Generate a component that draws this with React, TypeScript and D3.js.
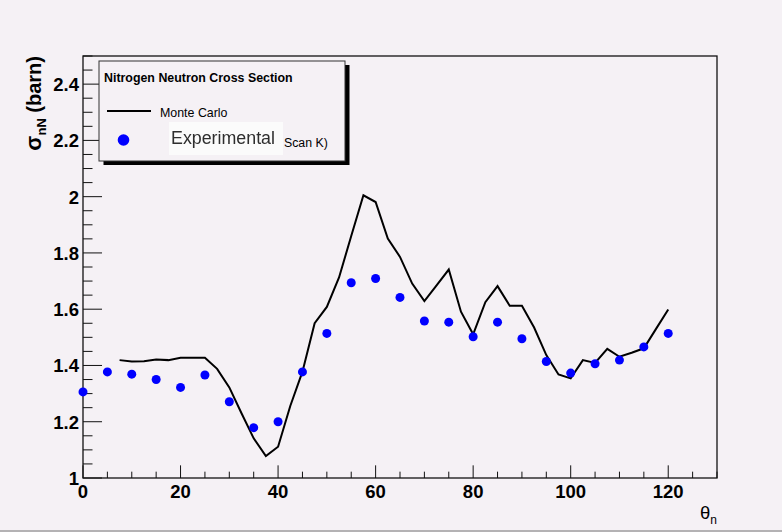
import React from "react";
import * as d3 from "d3";

// Experimental cross sections (Scan K), one per 5 degrees
const expAngles = [0, 5, 10, 15, 20, 25, 30, 35, 40, 45, 50, 55, 60, 65, 70, 75, 80, 85, 90, 95, 100, 105, 110, 115, 120];
const expSigma = [1.306, 1.377, 1.369, 1.35, 1.322, 1.366, 1.271, 1.179, 1.2, 1.377, 1.514, 1.694, 1.709, 1.642, 1.558, 1.554, 1.502, 1.554, 1.495, 1.414, 1.373, 1.406, 1.419, 1.466, 1.514];

// Monte Carlo prediction, one per 2.5 degrees
const mcAngles = [7.5, 10, 12.5, 15, 17.5, 20, 22.5, 25, 27.5, 30, 32.5, 35, 37.5, 40, 42.5, 45, 47.5, 50, 52.5, 55, 57.5, 60, 62.5, 65, 67.5, 70, 72.5, 75, 77.5, 80, 82.5, 85, 87.5, 90, 92.5, 95, 97.5, 100, 102.5, 105, 107.5, 110, 112.5, 115, 117.5, 120];
const mcSigma = [1.419, 1.414, 1.415, 1.421, 1.419, 1.427, 1.427, 1.427, 1.388, 1.322, 1.23, 1.141, 1.078, 1.111, 1.256, 1.378, 1.55, 1.608, 1.713, 1.86, 2.005, 1.981, 1.851, 1.786, 1.691, 1.629, 1.685, 1.741, 1.591, 1.511, 1.625, 1.682, 1.612, 1.612, 1.535, 1.437, 1.368, 1.354, 1.419, 1.409, 1.459, 1.431, 1.445, 1.461, 1.53, 1.599];

const xMajorTicks = [0, 20, 40, 60, 80, 100, 120];
const yMajorTicks = [1, 1.2, 1.4, 1.6, 1.8, 2, 2.2, 2.4];
const yTickLabels = ["1", "1.2", "1.4", "1.6", "1.8", "2", "2.2", "2.4"];

const legendTitle = "Nitrogen Neutron Cross Section";
const legendMC = "Monte Carlo";
const legendExp = "Experimental";
const legendExpTail = "Scan K)";

const W = 782;
const H = 532;
const frame = { left: 83, right: 717, top: 56, bottom: 478 };
const FONT = "'Liberation Sans', Arial, Helvetica, sans-serif";
const BG = "#f5f1f5";

export default function App() {
  const x = d3.scaleLinear().domain([0, 130]).range([frame.left, frame.right]);
  const y = d3.scaleLinear().domain([1, 2.5]).range([frame.bottom, frame.top]);

  const xMinor = d3.range(0, 130.001, 5).filter((v) => v % 20 !== 0);
  const yMinor = d3.range(1, 2.5001, 0.05).map((v) => +v.toFixed(2)).filter((v) => Math.round(v * 100) % 20 !== 0);

  const plotW = frame.right - frame.left;
  const plotH = frame.bottom - frame.top;
  const xMajLen = 0.03 * plotH;
  const yMajLen = 0.03 * plotW;

  const line = d3
    .line<number>()
    .x((_, i) => x(mcAngles[i]))
    .y((d) => y(d));

  return (
    <svg
      width={W}
      height={H}
      viewBox={`0 0 ${W} ${H}`}
      style={{ position: "absolute", left: 0, top: 0, display: "block" }}
      fontFamily={FONT}
    >
      <defs>
        <filter id="soft" x="-5%" y="-20%" width="110%" height="140%">
          <feGaussianBlur stdDeviation="0.6" />
        </filter>
      </defs>
      <rect x={0} y={0} width={W} height={H} fill={BG} />
      <rect x={0} y={530} width={W} height={2} fill="#b4b2b4" />

      {/* axis ticks */}
      <g stroke="#111" strokeWidth={1}>
        {xMajorTicks.map((v) => (
          <line key={`xM${v}`} x1={x(v)} x2={x(v)} y1={frame.bottom} y2={frame.bottom - xMajLen} />
        ))}
        {xMinor.map((v) => (
          <line key={`xm${v}`} x1={x(v)} x2={x(v)} y1={frame.bottom} y2={frame.bottom - xMajLen / 2} />
        ))}
        {yMajorTicks.map((v) => (
          <line key={`yM${v}`} x1={frame.left} x2={frame.left + yMajLen} y1={y(v)} y2={y(v)} />
        ))}
        {yMinor.map((v) => (
          <line key={`ym${v}`} x1={frame.left} x2={frame.left + yMajLen / 2} y1={y(v)} y2={y(v)} />
        ))}
      </g>

      {/* frame */}
      <rect
        x={frame.left}
        y={frame.top}
        width={plotW}
        height={plotH}
        fill="none"
        stroke="#111"
        strokeWidth={1.3}
      />

      {/* tick labels */}
      <g fontWeight="bold" fontSize={18.5} fill="#000">
        {xMajorTicks.map((v) => (
          <text key={`xl${v}`} x={x(v)} y={498} textAnchor="middle">
            {v}
          </text>
        ))}
        {yMajorTicks.map((v, i) => (
          <text key={`yl${v}`} x={79} y={y(v) + 7} textAnchor="end">
            {yTickLabels[i]}
          </text>
        ))}
      </g>

      {/* axis titles */}
      <text
        transform={`translate(41,${frame.top}) rotate(-90)`}
        textAnchor="end"
        fontWeight="bold"
        fontSize={20}
      >
        <tspan fontSize={22}>σ</tspan>
        <tspan fontSize={13} dy={5}>nN</tspan>
        <tspan dy={-5}> (barn)</tspan>
      </text>
      <text x={frame.right} y={519} textAnchor="end" fontSize={18.5}>
        θ<tspan fontSize={12} dy={5}>n</tspan>
      </text>

      {/* Monte Carlo curve */}
      <path d={line(mcSigma) ?? ""} fill="none" stroke="#000" strokeWidth={2} strokeLinejoin="miter" />

      {/* experimental points */}
      <g fill="#0000ff">
        {expSigma.map((v, i) => (
          <circle key={`p${i}`} cx={x(expAngles[i])} cy={y(v)} r={4.5} />
        ))}
      </g>

      {/* legend */}
      <rect x={103.5} y={65} width={246} height={100} fill="#000" />
      <rect x={99} y={61} width={246} height={100} fill={BG} stroke="#333" strokeWidth={1} />
      <text x={104} y={82} fontWeight="bold" fontSize={12.4} fill="#000">
        {legendTitle}
      </text>
      <line x1={107} x2={151} y1={111} y2={111} stroke="#000" strokeWidth={2} />
      <text x={160} y={116.5} fontSize={12.4} fill="#000">
        {legendMC}
      </text>
      <circle cx={123.5} cy={140} r={5.8} fill="#0000ff" />
      <rect x={169} y={122} width={114} height={33} fill="#fbfbfb" />
      <text
        x={171}
        y={143.5}
        fontSize={17.5}
        fill="#2e2e2e"
        textLength={104}
        lengthAdjust="spacingAndGlyphs"
        filter="url(#soft)"
      >
        {legendExp}
      </text>
      <text x={284} y={146.5} fontSize={12.3} fill="#000">
        {legendExpTail}
      </text>
    </svg>
  );
}
